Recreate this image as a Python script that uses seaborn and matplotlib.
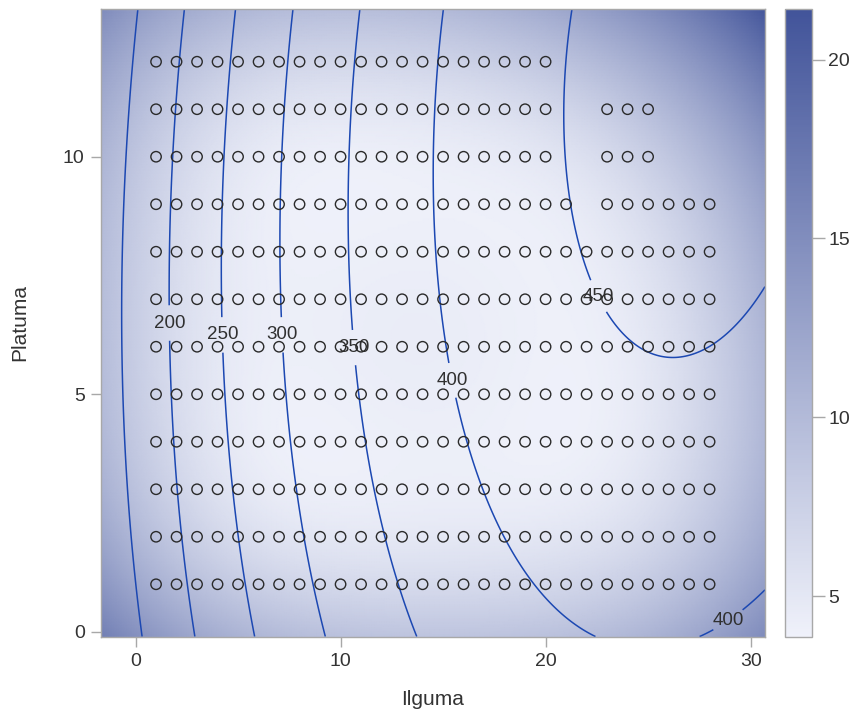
import numpy as np
import pandas as pd
import matplotlib
matplotlib.use("Agg")
import matplotlib.pyplot as plt
from matplotlib.colors import LinearSegmentedColormap, Normalize
import seaborn as sns

# Design points: Ilguma positions present on each Platuma row
platuma_levels = [1, 2, 3, 4, 5, 6, 7, 8, 9, 10, 11, 12]
ilguma_rows_1_8 = list(range(1, 29))
ilguma_row_9 = list(range(1, 22)) + [23, 24, 25, 26, 27, 28]
ilguma_rows_10_11 = list(range(1, 21)) + [23, 24, 25]
ilguma_row_12 = list(range(1, 21))

# Fitted quadratic response surface:
# intercept, Ilguma, Platuma, Ilguma^2, Platuma^2, Ilguma*Platuma
surface_coef = [144.041635, 20.780678, 6.14904, -0.415717, -0.449472, 0.174183]
root_mse = 41.8
contour_levels = [150, 200, 250, 300, 350, 400, 450]
label_spots = [(1.7, 6.5), (4.27, 6.25), (7.1, 6.25), (10.6, 5.98),
               (15.3, 5.28), (22.5, 7.05), (28.9, 0.25)]
x_limits = (-1.7, 30.7)
y_limits = (-0.1, 13.1)
se_range = (3.87, 21.40)

rows = []
for p in platuma_levels:
    if p <= 8:
        xs = ilguma_rows_1_8
    elif p == 9:
        xs = ilguma_row_9
    elif p <= 11:
        xs = ilguma_rows_10_11
    else:
        xs = ilguma_row_12
    rows += [(x, p) for x in xs]
obs = pd.DataFrame(rows, columns=["Ilguma", "Platuma"])


def design(x, y):
    return np.column_stack([np.ones_like(x), x, y, x * x, y * y, x * y])


gx = np.linspace(*x_limits, 400)
gy = np.linspace(*y_limits, 220)
GX, GY = np.meshgrid(gx, gy)
G = design(GX.ravel(), GY.ravel())
pred = (G @ np.array(surface_coef)).reshape(GX.shape)

# Standard error of the predicted mean over the grid
X = design(obs["Ilguma"].to_numpy(float), obs["Platuma"].to_numpy(float))
xtx_inv = np.linalg.inv(X.T @ X)
stderr = root_mse * np.sqrt(np.einsum("ij,jk,ik->i", G, xtx_inv, G)).reshape(GX.shape)

sns.set_theme(style="white")
plt.rcParams["font.family"] = ["Liberation Sans", "DejaVu Sans"]

cmap = LinearSegmentedColormap.from_list("se", ["#EFF1FA", "#42549A"])
norm = Normalize(*se_range)

fig = plt.figure(figsize=(8.57, 7.12), dpi=100)
ax = fig.add_axes([0.1175, 0.106, 0.7751, 0.8807])
cax = fig.add_axes([0.916, 0.106, 0.031, 0.8807])

mesh = ax.pcolormesh(GX, GY, stderr, cmap=cmap, norm=norm, shading="gouraud",
                     rasterized=True)
cs = ax.contour(GX, GY, pred, levels=contour_levels, colors="#1C48B2",
                linewidths=1.1)
texts = ax.clabel(cs, manual=label_spots, inline=True, inline_spacing=2,
                  fontsize=13.5, colors="#303030", fmt="%d")
for t in texts:
    t.set_rotation(0)

sns.scatterplot(data=obs, x="Ilguma", y="Platuma", ax=ax, marker="o", s=56,
                facecolor="none", edgecolor="#2A2A2A", linewidth=1.0,
                legend=False, zorder=5)

ax.set_xlim(*x_limits)
ax.set_ylim(*y_limits)
ax.set_xticks([0, 10, 20, 30])
ax.set_yticks([0, 5, 10])
ax.set_xlabel("Ilguma", fontsize=15, color="#333333", labelpad=15)
ax.set_ylabel("Platuma", fontsize=15, color="#333333", labelpad=24)
ax.tick_params(axis="both", which="both", direction="out", length=7.5,
               width=1.0, color="#A8A8A8", labelsize=14, labelcolor="#333333",
               pad=4, bottom=True, left=True)
for s in ax.spines.values():
    s.set_color("#A8A8A8")
    s.set_linewidth(1.0)

cb = fig.colorbar(mesh, cax=cax)
cb.set_ticks([5, 10, 15, 20])
cb.outline.set_edgecolor("#A8A8A8")
cb.outline.set_linewidth(1.0)
cax.tick_params(direction="out", length=9, width=1.0, color="#A8A8A8",
                labelsize=14, labelcolor="#333333", pad=3, right=True)

fig.savefig("out.png", dpi=100)
